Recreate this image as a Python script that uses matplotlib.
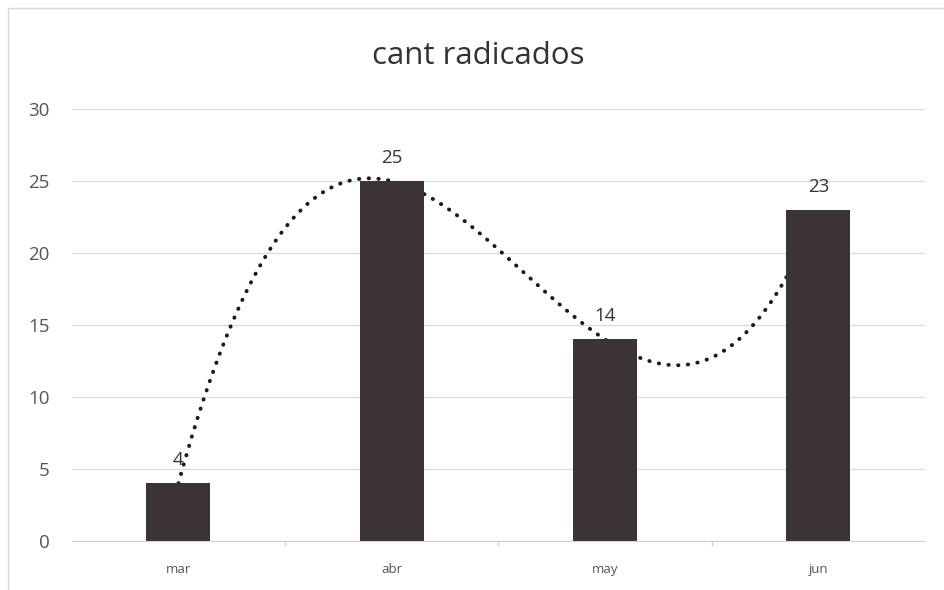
import numpy as np
import matplotlib.pyplot as plt
from matplotlib.patches import Rectangle

# Data
months = ['mar', 'abr', 'may', 'jun']
radicados = [4, 25, 14, 23]
y_ticks = [0, 5, 10, 15, 20, 25, 30]

plt.rcParams['font.family'] = ['Open Sans', 'DejaVu Sans']

fig = plt.figure(figsize=(9.44, 5.90), dpi=100)
ax = fig.add_axes([0.076, 0.083, 0.904, 0.732])

x = np.arange(len(months))

# polynomial trendline (order 3) drawn behind the bars
coef = np.polyfit(x, radicados, 3)
xs = np.linspace(x[0], x[-1], 300)
ax.plot(xs, np.polyval(coef, xs), color='#1a1a1a', linewidth=2.8,
        linestyle=(0, (0.1, 2.4)), dash_capstyle='round', zorder=1)

bars = ax.bar(x, radicados, width=0.30, color='#3b3337', zorder=2)
for xi, v in zip(x, radicados):
    ax.text(xi, v + 1.0, str(v), ha='center', va='bottom', fontsize=13.5, color='#333333', zorder=3)

ax.set_xlim(-0.5, 3.5)
ax.set_ylim(0, 30)
ax.set_yticks(y_ticks)
ax.set_xticks(x)
ax.set_xticklabels(months, fontsize=9.5, color='#555555')
ax.tick_params(axis='y', length=0, labelsize=13.5, labelcolor='#555555', pad=16)
ax.tick_params(axis='x', length=0, pad=16)
ax.grid(axis='y', color='#dcdcdc', linewidth=1, zorder=0)
ax.set_axisbelow(True)
for s in ['top', 'right', 'left']:
    ax.spines[s].set_visible(False)
ax.spines['bottom'].set_color('#d0d0d0')

# minor separators between categories on x axis
for b in [0.5, 1.5, 2.5]:
    ax.plot([b, b], [0, -0.25], color='#d0d0d0', linewidth=1, clip_on=False)

fig.text(0.507, 0.905, 'cant radicados', ha='center', va='center', fontsize=22.5, color='#333333')

# chart border
fig.patches.append(Rectangle((0.009, -0.01), 1.0, 0.997, transform=fig.transFigure,
                             fill=False, edgecolor='#d6d6d6', linewidth=1))

fig.savefig('out.png', dpi=100)
